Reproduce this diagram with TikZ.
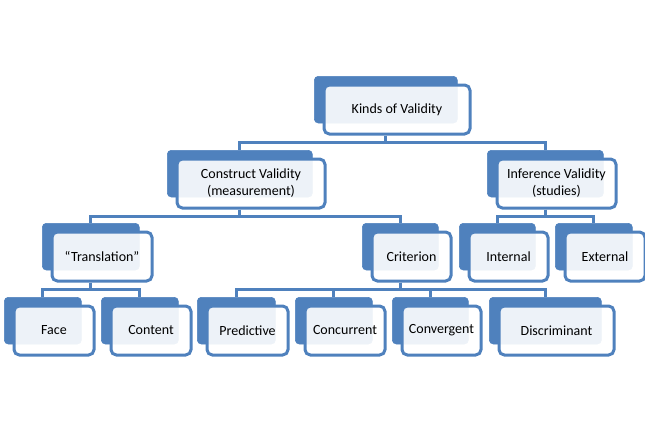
\documentclass[tikz,border=0pt]{standalone}
\usepackage{fontspec}
\setmainfont{Carlito}
\definecolor{vblue}{HTML}{4F81BD}
\tikzset{
  back/.style={draw=vblue, fill=vblue, line width=0.5pt, rounded corners=3pt,
    anchor=north west, inner sep=0pt, minimum height=35pt},
  front/.style={draw=vblue, fill=white, fill opacity=0.9, text opacity=1,
    line width=2.25pt, rounded corners=4pt, anchor=north west, inner sep=0pt,
    minimum height=36.75pt, align=center,
    font=\fontsize{10.5}{12.75}\selectfont},
  link/.style={draw=vblue, line width=2.25pt},
}
\begin{document}
\begin{tikzpicture}[x=0.75pt,y=-0.75pt]
\useasboundingbox (0,0) rectangle (645,428);
% boxes: name / back x / back y / back width / text
\foreach \name/\bx/\by/\bw/\txt in {
  kinds/314/76/143/{Kinds of Validity},
  construct/167/150/145/{Construct Validity\\(measurement)},
  inference/487/150/116/{Inference Validity\\(studies)},
  translation/42/223/97/{“Translation”},
  criterion/362/223/76/{Criterion},
  internal/459/223/76/{Internal},
  external/555/223/77/{External},
  face/4/297/77/{Face},
  content/101/297/77/{Content},
  predictive/197/297/78/{Predictive},
  concurrent/295/297/77/{Concurrent},
  convergent/392/297/76/{Convergent},
  discriminant/489/297/112/{Discriminant}}
{
  \node[back, minimum width=\bw*0.75pt] (\name-b) at (\bx,\by) {};
  \node[front, minimum width=(\bw+3)*0.75pt] (\name) at (\bx+8.5,\by+7.5) {\txt};
}
% bus levels
\coordinate (bus1) at (0,142);
\coordinate (bus2) at (0,216);
\coordinate (bus3) at (0,289);
\foreach \p/\c/\bus in {kinds/construct/bus1, kinds/inference/bus1,
  construct/translation/bus2, construct/criterion/bus2,
  inference/internal/bus2, inference/external/bus2,
  translation/face/bus3, translation/content/bus3,
  criterion/predictive/bus3, criterion/concurrent/bus3,
  criterion/convergent/bus3, criterion/discriminant/bus3}
{
  \draw[link] (\p-b.center |- \p.south) -- (\p-b.center |- \bus) -| (\c-b.north);
}
\end{tikzpicture}
\end{document}
